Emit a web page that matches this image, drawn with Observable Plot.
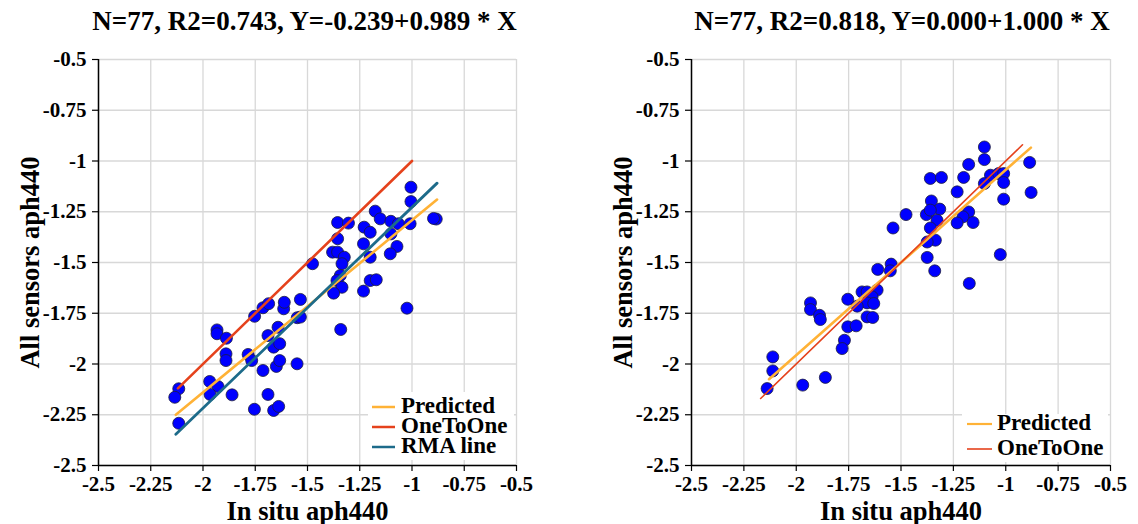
<!DOCTYPE html>
<html>
<head>
<meta charset="utf-8">
<script src="https://cdn.jsdelivr.net/npm/d3@7"></script>
<script src="https://cdn.jsdelivr.net/npm/@observablehq/plot@0.6"></script>
<style>
  body { margin: 0; background: #fff; }
  #wrap { display: flex; width: 1138px; height: 524px; overflow: hidden; }
  #wrap svg { flex: none; }
</style>
</head>
<body>
<div id="wrap"></div>
<script>
// ---------- data ----------
const tickValues = [-2.5, -2.25, -2, -1.75, -1.5, -1.25, -1, -0.75, -0.5];
const tickLabels = ["-2.5", "-2.25", "-2", "-1.75", "-1.5", "-1.25", "-1", "-0.75", "-0.5"];

const titleLeft = "N=77, R2=0.743, Y=-0.239+0.989 * X";
const titleRight = "N=77, R2=0.818, Y=0.000+1.000 * X";
const xLabel = "In situ aph440";
const yLabel = "All sensors aph440";

// Left panel points
const inSituLeft = [-1.933,-1.933,-1.888,-1.890,-1.890,-1.784,-1.767,-1.713,-1.968,-1.928,-1.966,-1.861,-2.116,-2.135,-2.116,-1.754,-1.689,-1.662,-1.638,-1.649,-1.633,-1.550,-1.662,-1.633,-1.689,-1.641,-1.549,-1.753,-1.713,-1.686,-1.614,-1.611,-1.534,-1.341,-1.005,-1.005,-0.884,-1.176,-1.152,-1.101,-1.065,-1.009,-1.356,-1.304,-1.229,-1.200,-1.356,-1.101,-1.232,-1.072,-1.104,-1.476,-1.380,-1.356,-1.324,-1.335,-1.200,-1.343,-1.359,-1.335,-1.375,-1.232,-1.200,-1.171,-1.534,-1.024,-0.897];
const sensorsLeft = [-1.832,-1.851,-1.873,-1.950,-1.983,-1.953,-1.983,-2.032,-2.086,-2.111,-2.150,-2.152,-2.122,-2.164,-2.292,-2.223,-2.150,-2.229,-2.209,-2.012,-1.983,-1.999,-1.917,-1.900,-1.860,-1.819,-1.772,-1.765,-1.723,-1.703,-1.728,-1.696,-1.682,-1.830,-1.129,-1.200,-1.286,-1.247,-1.285,-1.297,-1.309,-1.309,-1.303,-1.306,-1.326,-1.351,-1.383,-1.359,-1.408,-1.421,-1.457,-1.506,-1.449,-1.449,-1.474,-1.506,-1.474,-1.564,-1.589,-1.622,-1.651,-1.641,-1.589,-1.585,-1.769,-1.725,-1.283];

// Right panel points
const inSituRight = [-1.102,-1.102,-1.177,-0.886,-1.360,-1.307,-1.201,-1.073,-1.034,-1.010,-1.102,-1.010,-1.232,-0.879,-1.010,-1.355,-1.476,-1.379,-1.315,-1.360,-1.328,-1.177,-1.204,-1.232,-1.156,-1.360,-1.538,-1.336,-1.375,-1.375,-1.339,-1.026,-1.174,-1.547,-1.551,-1.611,-1.754,-1.686,-1.662,-1.614,-1.638,-1.662,-1.630,-1.709,-1.662,-1.635,-1.754,-1.714,-1.770,-1.781,-1.932,-1.932,-1.889,-1.885,-2.112,-2.112,-2.139,-1.969,-1.861];
const sensorsRight = [-0.931,-0.993,-1.017,-1.007,-1.086,-1.081,-1.081,-1.070,-1.062,-1.062,-1.111,-1.106,-1.152,-1.155,-1.188,-1.197,-1.264,-1.264,-1.237,-1.242,-1.292,-1.251,-1.275,-1.305,-1.303,-1.330,-1.330,-1.390,-1.399,-1.475,-1.541,-1.461,-1.603,-1.508,-1.541,-1.534,-1.681,-1.645,-1.645,-1.636,-1.669,-1.699,-1.702,-1.715,-1.768,-1.771,-1.817,-1.812,-1.883,-1.924,-1.699,-1.732,-1.760,-1.781,-1.965,-2.034,-2.121,-2.104,-2.066];

// Fitted lines (end points)
const predictedLeftX = [-2.13, -0.88];
const predictedLeftY = [-2.25, -1.19];
const oneToOneLeftX = [-2.12, -1.0];
const oneToOneLeftY = [-2.12, -1.0];
const rmaLeftX = [-2.13, -0.88];
const rmaLeftY = [-2.346, -1.109];

const predictedRightX = [-2.13, -0.88];
const predictedRightY = [-2.075, -0.934];
const oneToOneRightX = [-2.17, -0.92];
const oneToOneRightY = [-2.17, -0.92];

const seriesNames = ["Predicted", "OneToOne", "RMA line"];

// ---------- styling ----------
const FONT = "'Liberation Serif', 'Times New Roman', serif";
const COLORS = {"Predicted": "#ffb236", "OneToOne": "#e5421c", "RMA line": "#1d6b8a"};
const fmt = d => tickLabels[tickValues.indexOf(d)] ?? String(d);
const toPoints = (xs, ys) => xs.map((x, i) => ({x, y: ys[i]}));

function panel({title, titleDx, px, py, lines, marginLeft, marginRight, legend}) {
  const lineMarks = lines.map(l =>
    Plot.line(toPoints(l.xs, l.ys), {x: "x", y: "y", stroke: COLORS[l.name], strokeWidth: l.w})
  );
  const svg = Plot.plot({
    width: 569,
    height: 524,
    marginLeft, marginRight,
    marginTop: 59,
    marginBottom: 59,
    x: {domain: [-2.5, -0.5]},
    y: {domain: [-2.5, -0.5]},
    style: {fontFamily: FONT, fontWeight: "bold", fontSize: "21px", color: "#000", background: "#fff", overflow: "visible"},
    marks: [
      Plot.gridX(tickValues, {stroke: "#d8d8d8", strokeOpacity: 1, strokeWidth: 1.3}),
      Plot.gridY(tickValues, {stroke: "#d8d8d8", strokeOpacity: 1, strokeWidth: 1.3}),
      Plot.axisX(tickValues, {tickFormat: fmt, tickSize: 6, tickPadding: 5, label: null, stroke: "#000", strokeWidth: 1.2}),
      Plot.axisY(tickValues, {tickFormat: fmt, tickSize: 6, tickPadding: 6, label: null, stroke: "#000", strokeWidth: 1.2}),
      Plot.ruleX([-2.5], {stroke: "#000", strokeWidth: 1.5}),
      Plot.ruleY([-2.5], {stroke: "#000", strokeWidth: 1.5}),
      Plot.dot(toPoints(px, py), {x: "x", y: "y", r: 6, fill: "#0000ff", stroke: "#1c1c3c", strokeWidth: 0.8}),
      ...lineMarks,
      Plot.text([title], {frameAnchor: "top", dx: titleDx, dy: -30, lineAnchor: "bottom", textAnchor: "middle", fontSize: 27, fontWeight: "bold"}),
      Plot.text([xLabel], {frameAnchor: "bottom", dy: 54, lineAnchor: "bottom", textAnchor: "middle", fontSize: 26.5, fontWeight: "bold"}),
      Plot.text([yLabel], {frameAnchor: "left", dx: -68, rotate: -90, lineAnchor: "middle", textAnchor: "middle", fontSize: 26.5, fontWeight: "bold"})
    ]
  });
  const s = d3.select(svg);
  // legend (line swatches + labels on a white box)
  const g = s.append("g").attr("font-family", FONT).attr("font-weight", "bold")
    .attr("font-size", legend.fontSize).attr("text-anchor", "start");
  g.append("rect").attr("x", legend.box[0]).attr("y", legend.box[1])
    .attr("width", legend.box[2]).attr("height", legend.box[3]).attr("fill", "#fff");
  legend.items.forEach((it, i) => {
    const yb = legend.y0 + i * legend.step;
    g.append("line").attr("x1", legend.sx0).attr("x2", legend.sx1)
      .attr("y1", yb - 6).attr("y2", yb - 6)
      .attr("stroke", COLORS[it.name]).attr("stroke-width", it.w);
    g.append("text").attr("x", legend.tx).attr("y", yb).attr("fill", "#000")
      .attr("text-anchor", "start").text(it.name);
  });
  return svg;
}

const wrap = document.getElementById("wrap");

wrap.appendChild(panel({
  title: titleLeft, titleDx: -3,
  px: inSituLeft, py: sensorsLeft,
  marginLeft: 98, marginRight: 53,
  lines: [
    {name: seriesNames[0], xs: predictedLeftX, ys: predictedLeftY, w: 2.6},
    {name: seriesNames[1], xs: oneToOneLeftX, ys: oneToOneLeftY, w: 2.6},
    {name: seriesNames[2], xs: rmaLeftX, ys: rmaLeftY, w: 2.8}
  ],
  legend: {
    box: [368, 392, 146, 68], fontSize: 23, y0: 413, step: 20, sx0: 372, sx1: 395, tx: 401,
    items: [{name: seriesNames[0], w: 2.5}, {name: seriesNames[1], w: 2.5}, {name: seriesNames[2], w: 2.5}]
  }
}));

wrap.appendChild(panel({
  title: titleRight, titleDx: 1,
  px: inSituRight, py: sensorsRight,
  marginLeft: 122, marginRight: 28,
  lines: [
    {name: seriesNames[0], xs: predictedRightX, ys: predictedRightY, w: 2.6},
    {name: seriesNames[1], xs: oneToOneRightX, ys: oneToOneRightY, w: 1.6}
  ],
  legend: {
    box: [393, 414, 146, 48], fontSize: 23, y0: 430, step: 25, sx0: 398, sx1: 423, tx: 428,
    items: [{name: seriesNames[0], w: 2.2}, {name: seriesNames[1], w: 1.6}]
  }
}));
</script>
</body>
</html>
